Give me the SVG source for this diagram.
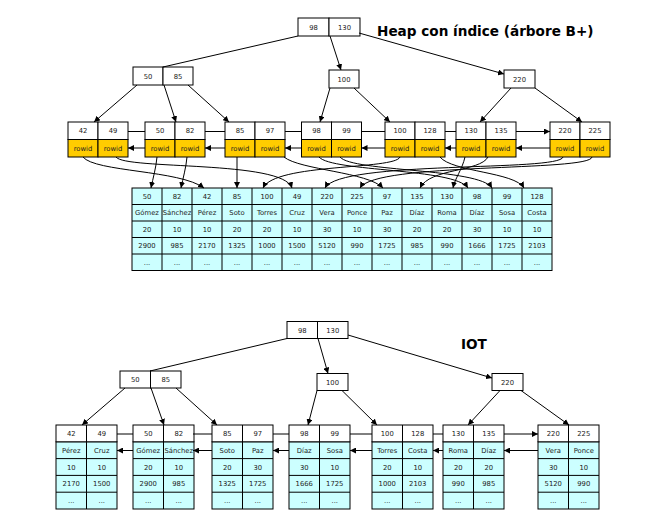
<svg xmlns="http://www.w3.org/2000/svg" width="667" height="517" viewBox="0 0 667 517">
<style>
text{font-family:"DejaVu Sans","Liberation Sans",sans-serif;}
.t{font-size:6.8px;fill:#222;text-anchor:middle;}
.title{font-size:13.6px;font-weight:bold;fill:#000;}
.w{fill:#fff;stroke:#000;stroke-width:1;}
.y{fill:#ffcc00;stroke:#000;stroke-width:1;}
.c{fill:#ccffff;stroke:#000;stroke-width:1;}
.ln{fill:none;stroke:#000;stroke-width:1;}
.e{fill:none;stroke:#000;stroke-width:1;}
.ea{fill:none;stroke:#000;stroke-width:1;marker-end:url(#ah);}
</style>
<defs>
<marker id="ah" markerWidth="6" markerHeight="6" refX="6" refY="3" orient="auto" markerUnits="userSpaceOnUse">
<path d="M0,0 L6,3 L0,6 z" fill="#000"/>
</marker>
<g id="hleaf">
<rect class="w" x="0" y="0" width="30" height="17.5"/>
<rect class="w" x="30" y="0" width="30" height="17.5"/>
<rect class="y" x="0" y="17.5" width="30" height="17.5"/>
<rect class="y" x="30" y="17.5" width="30" height="17.5"/>
<text class="t" x="15" y="28.8">rowid</text>
<text class="t" x="45" y="28.8">rowid</text>
</g>
<g id="ileaf">
<rect class="c" x="0" y="16.8" width="61" height="67.2"/>
<rect class="w" x="0" y="0" width="61" height="16.8"/>
<path class="ln" d="M30.5,0 V84 M0,33.6 H61 M0,50.4 H61 M0,67.2 H61"/>
</g>
</defs>

<text class="title" x="377" y="36">Heap con índice (árbore B+)</text>
<text class="title" x="461" y="349">IOT</text>

<!-- HEAP TREE -->
<g id="h-root">
<rect class="w" x="298" y="18" width="31" height="18"/><rect class="w" x="329" y="18" width="31" height="18"/>
<text class="t" x="313.5" y="29.5">98</text><text class="t" x="344.5" y="29.5">130</text>
</g>
<g id="h-n50-85">
<rect class="w" x="133" y="67" width="30" height="18"/><rect class="w" x="163" y="67" width="30" height="18"/>
<text class="t" x="148" y="78.5">50</text><text class="t" x="178" y="78.5">85</text>
</g>
<g id="h-n100">
<rect class="w" x="329" y="70" width="30" height="18"/>
<text class="t" x="344" y="81.5">100</text>
</g>
<g id="h-n220">
<rect class="w" x="504" y="70" width="31" height="18"/>
<text class="t" x="519.5" y="81.5">220</text>
</g>
<g id="h-leaf1" transform="translate(68,122)"><use href="#hleaf"/><text class="t" x="15" y="11.3">42</text><text class="t" x="45" y="11.3">49</text></g>
<g id="h-leaf2" transform="translate(145,122)"><use href="#hleaf"/><text class="t" x="15" y="11.3">50</text><text class="t" x="45" y="11.3">82</text></g>
<g id="h-leaf3" transform="translate(225,122)"><use href="#hleaf"/><text class="t" x="15" y="11.3">85</text><text class="t" x="45" y="11.3">97</text></g>
<g id="h-leaf4" transform="translate(301.5,122)"><use href="#hleaf"/><text class="t" x="15" y="11.3">98</text><text class="t" x="45" y="11.3">99</text></g>
<g id="h-leaf5" transform="translate(385,122)"><use href="#hleaf"/><text class="t" x="15" y="11.3">100</text><text class="t" x="45" y="11.3">128</text></g>
<g id="h-leaf6" transform="translate(456,122)"><use href="#hleaf"/><text class="t" x="15" y="11.3">130</text><text class="t" x="45" y="11.3">135</text></g>
<g id="h-leaf7" transform="translate(550,122)"><use href="#hleaf"/><text class="t" x="15" y="11.3">220</text><text class="t" x="45" y="11.3">225</text></g>

<g id="heap-table">
<rect class="c" x="132" y="188" width="420" height="82.5"/>
<path class="ln" d="M162,188V270.5M192,188V270.5M222,188V270.5M252,188V270.5M282,188V270.5M312,188V270.5M342,188V270.5M372,188V270.5M402,188V270.5M432,188V270.5M462,188V270.5M492,188V270.5M522,188V270.5M132,204.5H552M132,221H552M132,237.5H552M132,254H552"/>
<g class="t">
<text x="147" y="198.8">50</text><text x="147" y="215.3">Gómez</text><text x="147" y="231.8">20</text><text x="147" y="248.3">2900</text><text x="147" y="264.8">...</text>
<text x="177" y="198.8">82</text><text x="177" y="215.3">Sánchez</text><text x="177" y="231.8">10</text><text x="177" y="248.3">985</text><text x="177" y="264.8">...</text>
<text x="207" y="198.8">42</text><text x="207" y="215.3">Pérez</text><text x="207" y="231.8">10</text><text x="207" y="248.3">2170</text><text x="207" y="264.8">...</text>
<text x="237" y="198.8">85</text><text x="237" y="215.3">Soto</text><text x="237" y="231.8">20</text><text x="237" y="248.3">1325</text><text x="237" y="264.8">...</text>
<text x="267" y="198.8">100</text><text x="267" y="215.3">Torres</text><text x="267" y="231.8">20</text><text x="267" y="248.3">1000</text><text x="267" y="264.8">...</text>
<text x="297" y="198.8">49</text><text x="297" y="215.3">Cruz</text><text x="297" y="231.8">10</text><text x="297" y="248.3">1500</text><text x="297" y="264.8">...</text>
<text x="327" y="198.8">220</text><text x="327" y="215.3">Vera</text><text x="327" y="231.8">30</text><text x="327" y="248.3">5120</text><text x="327" y="264.8">...</text>
<text x="357" y="198.8">225</text><text x="357" y="215.3">Ponce</text><text x="357" y="231.8">10</text><text x="357" y="248.3">990</text><text x="357" y="264.8">...</text>
<text x="387" y="198.8">97</text><text x="387" y="215.3">Paz</text><text x="387" y="231.8">30</text><text x="387" y="248.3">1725</text><text x="387" y="264.8">...</text>
<text x="417" y="198.8">135</text><text x="417" y="215.3">Díaz</text><text x="417" y="231.8">20</text><text x="417" y="248.3">985</text><text x="417" y="264.8">...</text>
<text x="447" y="198.8">130</text><text x="447" y="215.3">Roma</text><text x="447" y="231.8">20</text><text x="447" y="248.3">990</text><text x="447" y="264.8">...</text>
<text x="477" y="198.8">98</text><text x="477" y="215.3">Díaz</text><text x="477" y="231.8">30</text><text x="477" y="248.3">1666</text><text x="477" y="264.8">...</text>
<text x="507" y="198.8">99</text><text x="507" y="215.3">Sosa</text><text x="507" y="231.8">10</text><text x="507" y="248.3">1725</text><text x="507" y="264.8">...</text>
<text x="537" y="198.8">128</text><text x="537" y="215.3">Costa</text><text x="537" y="231.8">10</text><text x="537" y="248.3">2103</text><text x="537" y="264.8">...</text>
</g>
</g>

<!-- IOT TREE -->
<g id="i-root">
<rect class="w" x="287" y="321.5" width="30.5" height="17"/><rect class="w" x="317.5" y="321.5" width="30.5" height="17"/>
<text class="t" x="302.25" y="332.5">98</text><text class="t" x="332.75" y="332.5">130</text>
</g>
<g id="i-n50-85">
<rect class="w" x="120" y="371" width="30.5" height="17"/><rect class="w" x="150.5" y="371" width="30.5" height="17"/>
<text class="t" x="135.25" y="382">50</text><text class="t" x="165.75" y="382">85</text>
</g>
<g id="i-n100">
<rect class="w" x="317" y="373.5" width="31" height="17"/>
<text class="t" x="332.5" y="384.5">100</text>
</g>
<g id="i-n220">
<rect class="w" x="492" y="373.5" width="31" height="17"/>
<text class="t" x="507.5" y="384.5">220</text>
</g>
<g id="i-leaf1" transform="translate(56,425)"><use href="#ileaf"/><g class="t">
<text x="15.25" y="10.9">42</text><text x="45.75" y="10.9">49</text><text x="15.25" y="27.7">Pérez</text><text x="45.75" y="27.7">Cruz</text><text x="15.25" y="44.5">10</text><text x="45.75" y="44.5">10</text><text x="15.25" y="61.3">2170</text><text x="45.75" y="61.3">1500</text><text x="15.25" y="78.1">...</text><text x="45.75" y="78.1">...</text></g></g>
<g id="i-leaf2" transform="translate(133,425)"><use href="#ileaf"/><g class="t">
<text x="15.25" y="10.9">50</text><text x="45.75" y="10.9">82</text><text x="15.25" y="27.7">Gómez</text><text x="45.75" y="27.7">Sánchez</text><text x="15.25" y="44.5">20</text><text x="45.75" y="44.5">10</text><text x="15.25" y="61.3">2900</text><text x="45.75" y="61.3">985</text><text x="15.25" y="78.1">...</text><text x="45.75" y="78.1">...</text></g></g>
<g id="i-leaf3" transform="translate(212,425)"><use href="#ileaf"/><g class="t">
<text x="15.25" y="10.9">85</text><text x="45.75" y="10.9">97</text><text x="15.25" y="27.7">Soto</text><text x="45.75" y="27.7">Paz</text><text x="15.25" y="44.5">20</text><text x="45.75" y="44.5">30</text><text x="15.25" y="61.3">1325</text><text x="45.75" y="61.3">1725</text><text x="15.25" y="78.1">...</text><text x="45.75" y="78.1">...</text></g></g>
<g id="i-leaf4" transform="translate(289,425)"><use href="#ileaf"/><g class="t">
<text x="15.25" y="10.9">98</text><text x="45.75" y="10.9">99</text><text x="15.25" y="27.7">Díaz</text><text x="45.75" y="27.7">Sosa</text><text x="15.25" y="44.5">30</text><text x="45.75" y="44.5">10</text><text x="15.25" y="61.3">1666</text><text x="45.75" y="61.3">1725</text><text x="15.25" y="78.1">...</text><text x="45.75" y="78.1">...</text></g></g>
<g id="i-leaf5" transform="translate(372,425)"><use href="#ileaf"/><g class="t">
<text x="15.25" y="10.9">100</text><text x="45.75" y="10.9">128</text><text x="15.25" y="27.7">Torres</text><text x="45.75" y="27.7">Costa</text><text x="15.25" y="44.5">20</text><text x="45.75" y="44.5">10</text><text x="15.25" y="61.3">1000</text><text x="45.75" y="61.3">2103</text><text x="15.25" y="78.1">...</text><text x="45.75" y="78.1">...</text></g></g>
<g id="i-leaf6" transform="translate(443,425)"><use href="#ileaf"/><g class="t">
<text x="15.25" y="10.9">130</text><text x="45.75" y="10.9">135</text><text x="15.25" y="27.7">Roma</text><text x="45.75" y="27.7">Díaz</text><text x="15.25" y="44.5">20</text><text x="45.75" y="44.5">20</text><text x="15.25" y="61.3">990</text><text x="45.75" y="61.3">985</text><text x="15.25" y="78.1">...</text><text x="45.75" y="78.1">...</text></g></g>
<g id="i-leaf7" transform="translate(538,425)"><use href="#ileaf"/><g class="t">
<text x="15.25" y="10.9">220</text><text x="45.75" y="10.9">225</text><text x="15.25" y="27.7">Vera</text><text x="45.75" y="27.7">Ponce</text><text x="15.25" y="44.5">30</text><text x="45.75" y="44.5">10</text><text x="15.25" y="61.3">5120</text><text x="45.75" y="61.3">990</text><text x="15.25" y="78.1">...</text><text x="45.75" y="78.1">...</text></g></g>

<g id="connectors">
<!-- heap tree edges -->
<path class="e" d="M298,36 L163,67"/>
<path class="ea" d="M330,36 L341,70"/>
<path class="ea" d="M359,33 L504,74"/>
<path class="ea" d="M137,85 L94,122"/>
<path class="ea" d="M164,85 L176,122"/>
<path class="ea" d="M188,85 L229,122"/>
<path class="ea" d="M330,88 L320,122"/>
<path class="ea" d="M354,88 L390,122"/>
<path class="ea" d="M511,88 L480,122"/>
<path class="ea" d="M535,88 L582,122"/>
<!-- heap leaf links -->
<path class="ea" d="M128,131.5H145M205,131.5H225M285,131.5H301.5M361.5,131.5H385M445,131.5H456M516,131.5H550"/>
<path class="ea" d="M145,148H128"/><path class="ea" d="M225,148H205"/><path class="ea" d="M301.5,148H285"/><path class="ea" d="M385,148H361.5"/><path class="ea" d="M456,148H445"/><path class="ea" d="M550,148H516"/>
<!-- rowid pointers -->
<path class="ea" d="M83,157 C95,172 180,170 204,188"/>
<path class="ea" d="M116,157 C125,170 283,160 292,188"/>
<path class="ea" d="M157,157 C156,168 153,178 151,188"/>
<path class="ea" d="M187,157 C186,168 183,178 181,188"/>
<path class="ea" d="M237,157 L237,188"/>
<path class="ea" d="M284,157 C300,170 368,172 383,188"/>
<path class="ea" d="M319,157 C332,172 455,168 468,188"/>
<path class="ea" d="M340,157 C352,172 480,168 492,188"/>
<path class="ea" d="M400,157 C395,170 275,163 263,188"/>
<path class="ea" d="M440,157 C452,172 515,172 524,188"/>
<path class="ea" d="M465,157 C462,170 455,178 453,188"/>
<path class="ea" d="M488,157 C480,172 430,168 420,188"/>
<path class="ea" d="M563,157 C560,172 340,160 325,188"/>
<path class="ea" d="M592,157 C590,172 375,162 360,188"/>
<!-- IOT tree edges -->
<path class="e" d="M287,338.5 L150,371"/>
<path class="ea" d="M318,338.5 L328,373.5"/>
<path class="ea" d="M348,335 L492,378"/>
<path class="ea" d="M125,388 L82,425"/>
<path class="ea" d="M151,388 L164,425"/>
<path class="ea" d="M176,388 L217,425"/>
<path class="ea" d="M317,390.5 L308,425"/>
<path class="ea" d="M342,390.5 L377,425"/>
<path class="ea" d="M500,390.5 L468,425"/>
<path class="ea" d="M521,390.5 L569,425"/>
<!-- IOT leaf links -->
<path class="ea" d="M117,434H133M193,434H212M273,434H289M350,434H372M433,434H443M504,434H538"/>
<path class="ea" d="M133,450.5H117"/><path class="ea" d="M212,450.5H193"/><path class="ea" d="M289,450.5H273"/><path class="ea" d="M372,450.5H350"/><path class="ea" d="M443,450.5H433"/><path class="ea" d="M538,450.5H504"/>
</g>
</svg>
